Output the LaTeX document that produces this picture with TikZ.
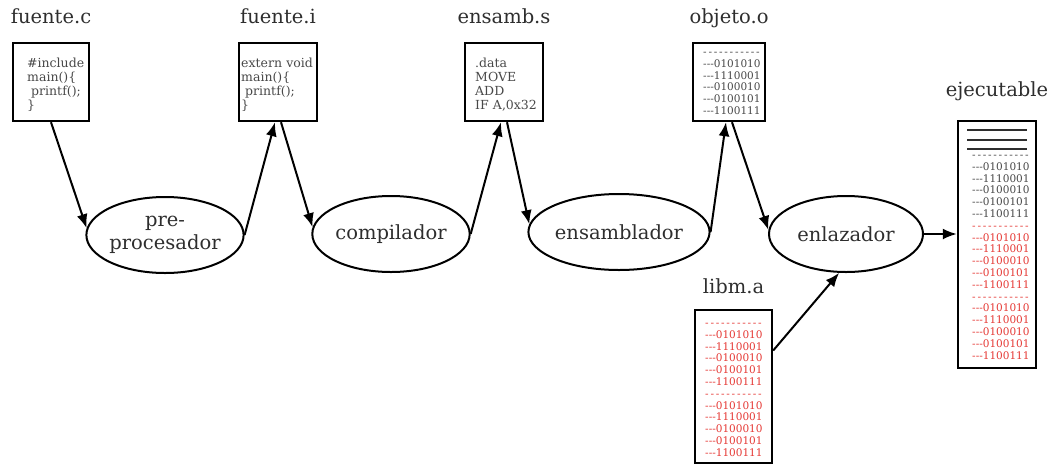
\documentclass[tikz,border=0pt]{standalone}
\usepackage{fontspec}
\setmainfont{DejaVu Serif}
\usepackage{tikz}
\usetikzlibrary{shapes,arrows,arrows.meta,positioning}

\definecolor{inkgray}{HTML}{2E2E2E}
\definecolor{codegray}{HTML}{484848}
\definecolor{binred}{HTML}{E53935}

\newcommand{\binrows}{-{}-{}-0101010\\-{}-{}-1110001\\-{}-{}-0100010\\-{}-{}-0100101\\-{}-{}-1100111}
\newcommand{\sepdash}{-\,-\,-\,-\,-\,-\,-\,-\,-\,-\,-}

\begin{document}
\begin{tikzpicture}[x=1pt, y=-1pt]
			\tikzstyle{Box}		= [rectangle, draw, line width=2.4pt, inner sep=0pt]
			\tikzstyle{Stage}	= [ellipse, draw, line width=2pt, minimum width=154pt, minimum height=76pt, inner sep=0pt, align=center, text=inkgray, font=\fontsize{19.5}{23}\selectfont]
			\tikzstyle{Title}	= [inner sep=0pt, text depth=0pt, text=inkgray, font=\fontsize{19.5}{23}\selectfont]
			\tikzstyle{Code}	= [anchor=north west, inner sep=0pt, text width=74pt, align=left, text=codegray, font=\fontsize{12.5}{14}\selectfont, execute at begin node=\strut]
			\tikzstyle{Bin}		= [anchor=north west, inner sep=0pt, text width=62pt, align=left, text=codegray, font=\fontsize{10.5}{11.8}\selectfont, execute at begin node=\strut]
			\tikzstyle{Flow}	= [line width=2pt, -{Latex[length=14pt,width=11pt]}]
			
			\useasboundingbox (0,0) rectangle (1052,464);
			
			\node (srcbox) at (51,82) [Box, minimum width=76pt, minimum height=78pt] {};
			\node (ibox) at (278,82) [Box, minimum width=78pt, minimum height=78pt] {};
			\node (asmbox) at (504,82) [Box, minimum width=78pt, minimum height=78pt] {};
			\node (objbox) at (729,82) [Box, minimum width=72pt, minimum height=78pt] {};
			\node (exebox) at (997,244.5) [Box, minimum width=78pt, minimum height=247pt] {};
			\node (libbox) at (733.5,386.5) [Box, minimum width=77pt, minimum height=153pt] {};
			
			\node (srctitle) [Title, above=18pt of srcbox] {fuente.c};
			\node (ititle) [Title, above=18pt of ibox] {fuente.i};
			\node (asmtitle) [Title, above=18pt of asmbox] {ensamb.s};
			\node (objtitle) [Title, above=18pt of objbox] {objeto.o};
			\node (exetitle) [Title, above=23pt of exebox] {ejecutable};
			\node (libtitle) [Title, above=15pt of libbox] {libm.a};
			
			\node (srccode) at (27,57) [Code] {\#include\\main()\{\\\hspace*{4pt}printf();\\\}};
			\node (icode) at (241,57) [Code] {extern void\\main()\{\\\hspace*{4pt}printf();\\\}};
			\node (asmcode) at (475,57) [Code] {.data\\MOVE\\ADD\\IF A,0x32};
			\node (objcode) at (703,47) [Bin] {\sepdash\\\binrows};
			\node (execode) at (972,150) [Bin] {\sepdash\\\binrows\\\color{binred}\sepdash\\\binrows\\\sepdash\\\binrows};
			\node (libcode) at (705,318) [Bin, text=binred] {\sepdash\\\binrows\\\sepdash\\\binrows};
			
			\foreach \y in {130,140,149}
				\draw [line width=2.4pt, inkgray] (967,\y) -- (1027,\y);
			
			\node (pre) at (165,235) [Stage] {pre-\\procesador};
			\node (comp) at (391,234) [Stage] {compilador};
			\node (asm) at (619,232) [Stage] {ensamblador};
			\node (link) at (846,234) [Stage] {enlazador};
			
			\draw (srcbox.south) to (pre.175) [Flow];
			\draw (pre.east) to ([xshift=-3pt]ibox.south) [Flow];
			\draw ([xshift=3pt]ibox.south) to (comp.175) [Flow];
			\draw (comp.east) to ([xshift=-3pt]asmbox.south) [Flow];
			\draw ([xshift=3pt]asmbox.south) to (asm.175) [Flow];
			\draw (asm.east) to ([xshift=-3pt]objbox.south) [Flow];
			\draw ([xshift=3pt]objbox.south) to (link.177) [Flow];
			\draw (link.east) to (link.east -| exebox.west) [Flow];
			\draw ([yshift=36pt]libbox.east) to (link.260) [Flow];
		\end{tikzpicture}
\end{document}
